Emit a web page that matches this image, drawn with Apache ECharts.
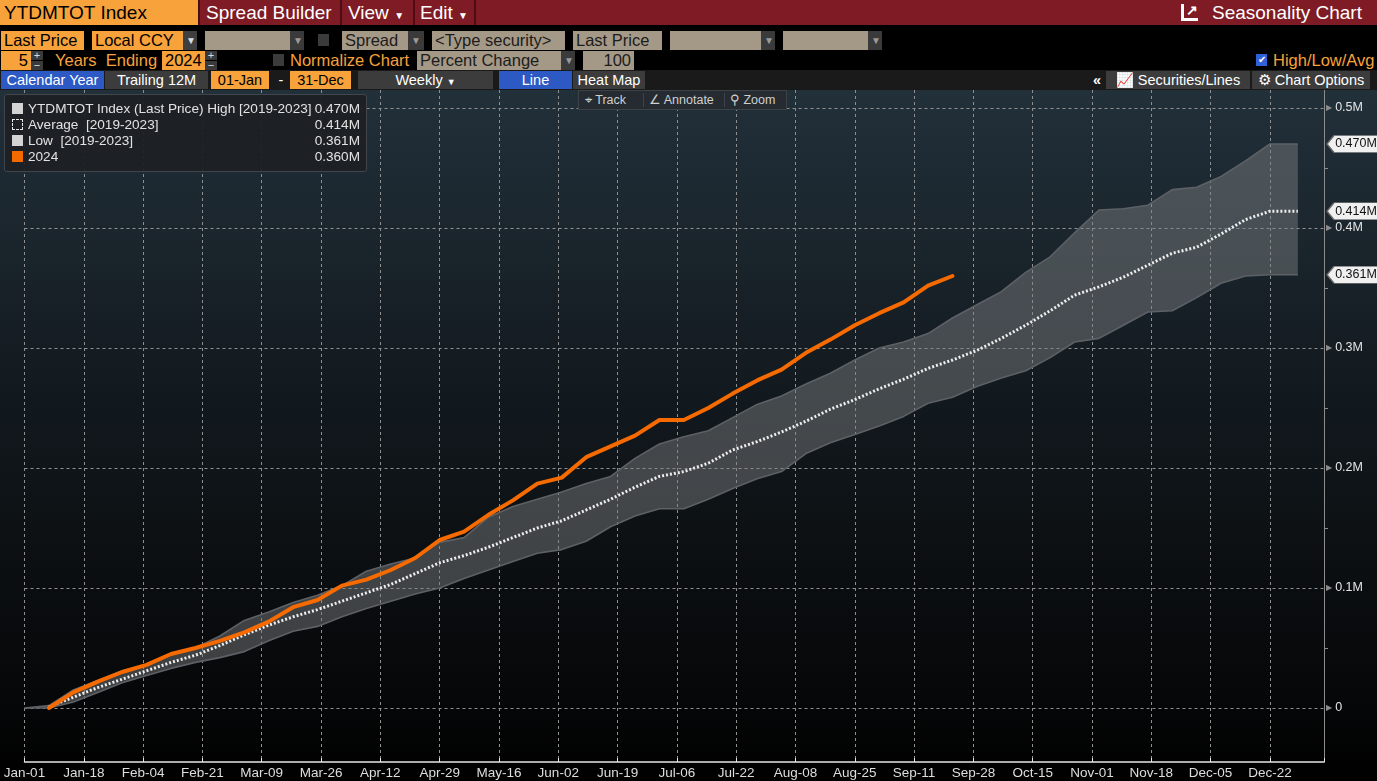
<!DOCTYPE html>
<html>
<head>
<meta charset="utf-8">
<script src="https://cdn.jsdelivr.net/npm/echarts@6/dist/echarts.min.js"></script>
<style>
  html, body { margin: 0; padding: 0; background: #000; width: 1377px; height: 781px; overflow: hidden; }
  body { font-family: "Liberation Sans", Arial, sans-serif; position: relative; }
  .a { position: absolute; white-space: nowrap; box-sizing: border-box; }
  .row1 { left: 0; top: 0; width: 1377px; height: 25px; background: #7e1b24; }
  .t1 { color: #fff; font-size: 19px; line-height: 25px; top: 0; }
  .sep { top: 0; width: 2px; height: 25px; background: #4e0d13; }
  .box { height: 19px; line-height: 19px; font-size: 16.5px; padding: 0 3px; }
  .org { background: #f7a23b; color: #000; }
  .bei { background: #a49886; color: #1c1c1c; }
  .drk { background: #3a3a3a; color: #9a9a9a; font-size: 10px; text-align: center; }
  .otx { color: #f7a23b; font-size: 16.5px; line-height: 19px; }
  .chk { width: 11px; height: 12px; background: #3b3b3b; }
  .row4 { left: 0; top: 70px; width: 1377px; height: 20px; background: #1a1a1a; }
  .b4 { top: 71px; height: 18px; line-height: 18px; font-size: 14.5px; color: #fff; text-align: center; }
  .blu { background: #2c59c4; }
  .gry { background: #3c3c3c; }
  #chart { position: absolute; left: 0; top: 90px; width: 1377px; height: 691px; }
  #tools { left: 578px; top: 90px; width: 209px; height: 20px; background: #252b30; border: 1px solid #3b4248;
           color: #cfcfcf; font-size: 12.5px; line-height: 18px; z-index: 5; }
  #legend { left: 4px; top: 94px; width: 363px; height: 78px; background: rgba(29,33,37,0.95);
            border: 1px solid #40464c; border-radius: 3px; z-index: 5; color: #e2e2e2; font-size: 13.6px; }
  .lr { position: absolute; left: 7px; right: 6px; height: 16px; line-height: 16px; }
  .sq { position: absolute; left: 0; top: 2px; width: 11px; height: 11px; box-sizing: border-box; }
  .lt { position: absolute; left: 16px; }
  .lv { position: absolute; right: 0; }
</style>
</head>
<body>
<!-- toolbar row 1 -->
<div class="a row1"></div>
<div class="a org" style="left:0;top:0;width:198px;height:25px;line-height:25px;font-size:19px;padding-left:4px">YTDMTOT Index</div>
<div class="a sep" style="left:198px"></div>
<div class="a t1" style="left:206px">Spread Builder</div>
<div class="a sep" style="left:340px"></div>
<div class="a t1" style="left:348px">View <span style="font-size:10px">&#9660;</span></div>
<div class="a sep" style="left:413px"></div>
<div class="a t1" style="left:420px">Edit <span style="font-size:10px">&#9660;</span></div>
<div class="a sep" style="left:474px"></div>
<div class="a" style="left:1181px;top:4px;width:17px;height:17px;border-left:3px solid #fff;border-bottom:3px solid #fff;color:#fff;font-size:14px;line-height:13px;text-align:right;font-weight:bold">&#8599;</div>
<div class="a t1" style="left:1212px">Seasonality Chart</div>

<!-- toolbar row 2 -->
<div class="a box org" style="left:1px;top:31px;width:83px">Last Price</div>
<div class="a box org" style="left:92px;top:31px;width:91px">Local CCY</div>
<div class="a box drk" style="left:183px;top:31px;width:14px;background:#3f3f3f;color:#ddd">&#9660;</div>
<div class="a box bei" style="left:205px;top:31px;width:85px"></div>
<div class="a box drk" style="left:290px;top:31px;width:14px">&#9660;</div>
<div class="a chk" style="left:318px;top:34px"></div>
<div class="a box bei" style="left:342px;top:31px;width:66px">Spread</div>
<div class="a box drk" style="left:408px;top:31px;width:16px">&#9660;</div>
<div class="a box bei" style="left:432px;top:31px;width:133px">&lt;Type security&gt;</div>
<div class="a box bei" style="left:573px;top:31px;width:89px">Last Price</div>
<div class="a box bei" style="left:670px;top:31px;width:91px"></div>
<div class="a box drk" style="left:761px;top:31px;width:14px">&#9660;</div>
<div class="a box bei" style="left:783px;top:31px;width:85px"></div>
<div class="a box drk" style="left:868px;top:31px;width:14px">&#9660;</div>

<!-- toolbar row 3 -->
<div class="a box org" style="left:1px;top:51px;width:30px;text-align:right">5</div>
<div class="a drk" style="left:31px;top:51px;width:12px;height:9px;line-height:9px;color:#ddd;font-size:11px">+</div>
<div class="a drk" style="left:31px;top:61px;width:12px;height:9px;line-height:9px;color:#ddd;font-size:11px">&#8722;</div>
<div class="a otx" style="left:55px;top:51px">Years&nbsp; Ending</div>
<div class="a box org" style="left:162px;top:51px;width:43px">2024</div>
<div class="a drk" style="left:205px;top:51px;width:12px;height:9px;line-height:9px;color:#ddd;font-size:11px">+</div>
<div class="a drk" style="left:205px;top:61px;width:12px;height:9px;line-height:9px;color:#ddd;font-size:11px">&#8722;</div>
<div class="a chk" style="left:273px;top:54px"></div>
<div class="a otx" style="left:290px;top:51px">Normalize Chart</div>
<div class="a box bei" style="left:417px;top:51px;width:144px">Percent Change</div>
<div class="a box drk" style="left:561px;top:51px;width:14px">&#9660;</div>
<div class="a box bei" style="left:583px;top:51px;width:51px;text-align:right">100</div>
<div class="a" style="left:1256px;top:54px;width:11px;height:12px;background:#2f62d8;color:#fff;font-size:10px;line-height:12px;text-align:center">&#10004;</div>
<div class="a otx" style="left:1273px;top:51px">High/Low/Avg</div>

<!-- toolbar row 4 -->
<div class="a row4"></div>
<div class="a b4 blu" style="left:1px;width:103px">Calendar Year</div>
<div class="a b4 gry" style="left:105px;width:103px">Trailing 12M</div>
<div class="a b4 org" style="left:211px;width:58px;color:#000">01-Jan</div>
<div class="a b4" style="left:276px;width:10px">-</div>
<div class="a b4 org" style="left:290px;width:61px;color:#000">31-Dec</div>
<div class="a b4 gry" style="left:358px;width:135px">Weekly <span style="font-size:9px">&#9660;</span></div>
<div class="a b4 blu" style="left:499px;width:73px">Line</div>
<div class="a b4 gry" style="left:573px;width:72px">Heat Map</div>
<div class="a b4" style="left:1090px;width:14px;font-weight:bold">&#171;</div>
<div class="a b4 gry" style="left:1106px;width:144px">&#128200; Securities/Lines</div>
<div class="a b4 gry" style="left:1252px;width:118px">&#9881; Chart Options</div>

<div id="chart"></div>

<div class="a" id="tools">
  <span style="position:absolute;left:6px">&#8982; Track</span>
  <span style="position:absolute;left:64px;top:2px;width:1px;height:14px;background:#3b4248"></span>
  <span style="position:absolute;left:70px">&#8736; Annotate</span>
  <span style="position:absolute;left:145px;top:2px;width:1px;height:14px;background:#3b4248"></span>
  <span style="position:absolute;left:151px">&#9906; Zoom</span>
</div>

<div class="a" id="legend"></div>

<script>
// x positions: day of year (Jan-01 = 0), weekly points
const xDays = [0, 7, 14, 21, 28, 35, 42, 49, 56, 63, 70, 77, 84, 91, 98, 105, 112, 119, 126, 133,
  140, 147, 154, 161, 168, 175, 182, 189, 196, 203, 210, 217, 224, 231, 238, 245, 252, 259, 266,
  273, 280, 287, 294, 301, 308, 315, 322, 329, 336, 343, 350, 357, 365];

// x tick labels, one every 17 days
const xLabels = ['Jan-01', 'Jan-18', 'Feb-04', 'Feb-21', 'Mar-09', 'Mar-26', 'Apr-12', 'Apr-29',
  'May-16', 'Jun-02', 'Jun-19', 'Jul-06', 'Jul-22', 'Aug-08', 'Aug-25', 'Sep-11', 'Sep-28',
  'Oct-15', 'Nov-01', 'Nov-18', 'Dec-05', 'Dec-22'];

// values in millions
const highVals = [0, 0.002, 0.015, 0.023, 0.031, 0.036, 0.045, 0.050, 0.060, 0.073, 0.080, 0.088,
  0.094, 0.102, 0.114, 0.120, 0.125, 0.138, 0.142, 0.159, 0.168, 0.174, 0.180, 0.187, 0.193, 0.208,
  0.220, 0.226, 0.231, 0.242, 0.253, 0.260, 0.270, 0.279, 0.290, 0.300, 0.305, 0.312, 0.325, 0.336,
  0.347, 0.363, 0.376, 0.396, 0.415, 0.416, 0.419, 0.432, 0.434, 0.443, 0.456, 0.470, 0.470];

const lowVals = [0, 0, 0.005, 0.013, 0.021, 0.027, 0.033, 0.038, 0.042, 0.047, 0.056, 0.064,
  0.068, 0.076, 0.083, 0.089, 0.095, 0.100, 0.108, 0.115, 0.122, 0.129, 0.132, 0.139, 0.151, 0.160,
  0.166, 0.166, 0.174, 0.183, 0.191, 0.197, 0.212, 0.221, 0.228, 0.235, 0.243, 0.254, 0.259, 0.268,
  0.275, 0.281, 0.292, 0.305, 0.308, 0.319, 0.330, 0.331, 0.342, 0.354, 0.360, 0.361, 0.361];

const avgVals = [null, 0.001, 0.009, 0.017, 0.024, 0.031, 0.038, 0.044, 0.052, 0.061, 0.069, 0.076,
  0.082, 0.089, 0.096, 0.103, 0.112, 0.121, 0.127, 0.134, 0.142, 0.150, 0.156, 0.165, 0.174, 0.184,
  0.193, 0.197, 0.204, 0.215, 0.222, 0.230, 0.239, 0.249, 0.257, 0.266, 0.274, 0.283, 0.290, 0.298,
  0.308, 0.319, 0.331, 0.344, 0.351, 0.359, 0.369, 0.379, 0.384, 0.395, 0.407, 0.414, 0.414];

// 2024, starts at xDays[1]
const vals2024 = [0, 0.013, 0.022, 0.030, 0.036, 0.045, 0.050, 0.056, 0.063, 0.072, 0.084, 0.090,
  0.102, 0.107, 0.115, 0.125, 0.140, 0.147, 0.161, 0.173, 0.187, 0.192, 0.209, 0.218, 0.227, 0.240,
  0.240, 0.250, 0.262, 0.273, 0.282, 0.296, 0.307, 0.319, 0.329, 0.338, 0.352, 0.360];

const xMax = 372.5;
const font = '"Liberation Sans", Arial, sans-serif';
const last = a => a[a.length - 1];
const fmtM = v => v.toFixed(3) + 'M';

// legend box
const legendRows = [
  { label: 'YTDMTOT Index (Last Price) High [2019-2023]', val: last(highVals), sq: 'background:#d4d4d4' },
  { label: 'Average&nbsp; [2019-2023]', val: last(avgVals), sq: 'border:1px dashed #e8e8e8' },
  { label: 'Low&nbsp; [2019-2023]', val: last(lowVals), sq: 'background:#d4d4d4' },
  { label: '2024', val: last(vals2024), sq: 'background:#f26a00' },
];
document.getElementById('legend').innerHTML = legendRows.map((r, i) =>
  '<div class="lr" style="top:' + (6 + i * 16) + 'px"><div class="sq" style="' + r.sq + '"></div>' +
  '<span class="lt">' + r.label + '</span><span class="lv">' + fmtM(r.val) + '</span></div>'
).join('');

function tag(v) {
  return {
    coord: [xMax, v], value: v,
    symbol: 'path://M0,8L7,0L60,0L60,16L7,16Z',
    symbolSize: [60, 17], symbolOffset: [33, 0],
    itemStyle: { color: '#f0f0f0', borderColor: '#6a6a6a', borderWidth: 1 },
    label: { show: true, position: 'inside', offset: [-1, 0], formatter: fmtM(v),
      color: '#111', fontSize: 12.5, fontFamily: font }
  };
}

const chart = echarts.init(document.getElementById('chart'));

chart.setOption({
  animation: false,
  backgroundColor: {
    type: 'linear', x: 0, y: 0, x2: 0, y2: 1,
    colorStops: [
      { offset: 0, color: '#22303a' },
      { offset: 0.45, color: '#12191e' },
      { offset: 0.88, color: '#060708' },
      { offset: 1, color: '#000' }
    ]
  },
  grid: { left: 24.5, right: 53, top: 0, bottom: 19 },
  xAxis: {
    type: 'value', min: 0, max: xMax, interval: 17,
    axisLine: { onZero: false, lineStyle: { color: '#e6e6e6', width: 1.5 } },
    axisTick: { inside: true, length: 4, lineStyle: { color: '#e6e6e6' } },
    axisLabel: {
      color: '#dedede', fontSize: 13.5, fontFamily: font, margin: 4,
      formatter: v => (v % 17 === 0 ? (xLabels[v / 17] || '') : '')
    },
    splitLine: { show: true, lineStyle: { color: '#8f8f8f', type: [3, 3], width: 1 } }
  },
  yAxis: {
    type: 'value', position: 'right', min: -0.045, max: 0.515, splitNumber: 5,
    axisLine: { show: true, onZero: false, lineStyle: { color: '#8c8c8c', width: 1 } },
    axisTick: { show: false },
    minorTick: { show: true, splitNumber: 2, length: 4, lineStyle: { color: '#8c8c8c' } },
    axisLabel: {
      margin: 2, fontFamily: font,
      formatter: function (v) {
        const k = Math.round(v * 10);
        if (v < 0 || Math.abs(v * 10 - k) > 1e-6) return '';
        return '{t|\u25B6}{v|' + (k === 0 ? '0' : (k / 10) + 'M') + '}';
      },
      rich: {
        t: { color: '#8c8c8c', fontSize: 8, fontFamily: 'DejaVu Sans' },
        v: { color: '#e4e4e4', fontSize: 12.5, fontFamily: font, padding: [0, 0, 0, 3] }
      }
    },
    splitLine: { show: true, showMinLine: false, showMaxLine: false,
      lineStyle: { color: '#8f8f8f', type: [3, 3], width: 1 } }
  },
  series: [
    {
      name: 'band', type: 'custom', silent: true, z: 1, clip: true,
      data: [[0, 0]],
      renderItem: function (params, api) {
        const pts = [];
        for (let i = 0; i < xDays.length; i++) pts.push(api.coord([xDays[i], highVals[i]]));
        for (let i = xDays.length - 1; i >= 0; i--) pts.push(api.coord([xDays[i], lowVals[i]]));
        return { type: 'polygon', shape: { points: pts }, style: { fill: 'rgba(128,130,133,0.46)' } };
      }
    },
    {
      name: 'High', type: 'line', z: 2, symbol: 'none', silent: true, clip: false,
      data: xDays.map((d, i) => [d, highVals[i]]),
      lineStyle: { color: '#5d6166', width: 1.6 },
      markPoint: { silent: true, data: [tag(last(highVals))] }
    },
    {
      name: 'Low', type: 'line', z: 2, symbol: 'none', silent: true, clip: false,
      data: xDays.map((d, i) => [d, lowVals[i]]),
      lineStyle: { color: '#5d6166', width: 1.6 },
      markPoint: { silent: true, data: [tag(last(lowVals))] }
    },
    {
      name: 'Average', type: 'line', z: 3, symbol: 'none', silent: true, clip: false,
      data: xDays.map((d, i) => [d, avgVals[i]]),
      lineStyle: { color: '#eeeeee', width: 3, type: [2, 2] },
      markPoint: { silent: true, data: [tag(last(avgVals))] }
    },
    {
      name: '2024', type: 'line', z: 4, symbol: 'none', silent: true,
      data: vals2024.map((v, i) => [xDays[i + 1], v]),
      lineStyle: { color: '#f66a00', width: 4, cap: 'round', join: 'round' }
    }
  ]
});
</script>
</body>
</html>
